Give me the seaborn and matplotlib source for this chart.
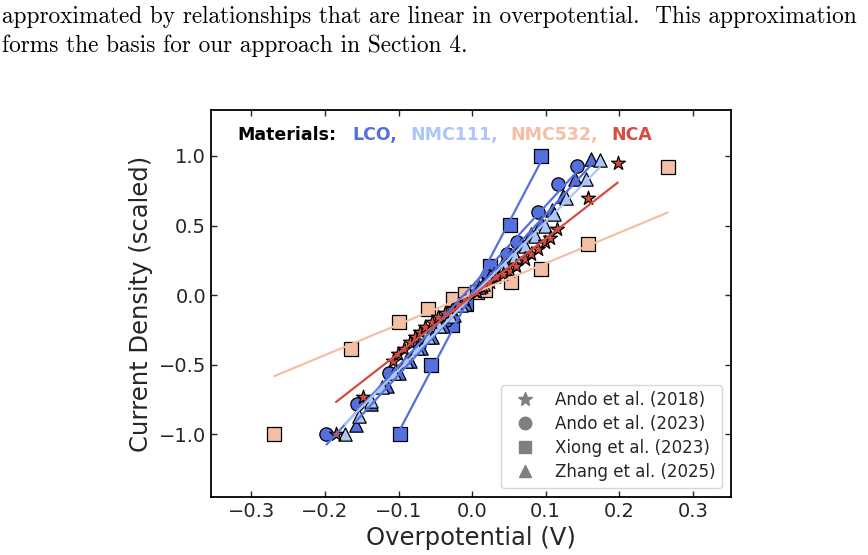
import numpy as np
import pandas as pd
import seaborn as sns
import matplotlib.pyplot as plt
from matplotlib.lines import Line2D

# scaled current density vs overpotential
ando18_eta = [-0.185, -0.148, -0.107, -0.1005, -0.093, -0.085, -0.078, -0.071, -0.064, -0.055,
              -0.046, -0.037, -0.028, -0.019, -0.010, 0.006, 0.015, 0.024, 0.033, 0.042,
              0.051, 0.060, 0.0716, 0.0807, 0.0897, 0.099, 0.1056, 0.115, 0.158, 0.198]
ando18_j = [-1.0, -0.733, -0.47, -0.42, -0.386, -0.338, -0.302, -0.267, -0.231, -0.195,
            -0.159, -0.128, -0.099, -0.063, -0.032, 0.02, 0.056, 0.092, 0.128, 0.152,
            0.176, 0.211, 0.259, 0.295, 0.331, 0.379, 0.414, 0.474, 0.70, 0.948]

ando23_eta = [-0.198, -0.156, -0.113, -0.072, -0.035, 0.022, 0.047, 0.061, 0.090, 0.117, 0.143]
ando23_j = [-1.0, -0.78, -0.558, -0.36, -0.18, 0.14, 0.295, 0.379, 0.60, 0.80, 0.93]

xiong_lco_eta = [-0.098, -0.0565, -0.027, -0.008, 0.024, 0.052, 0.094]
xiong_lco_j = [-1.0, -0.50, -0.214, -0.06, 0.21, 0.505, 1.0]

xiong_nmc532_eta = [-0.269, -0.164, -0.099, -0.060, -0.026, -0.010, 0.006, 0.018, 0.0535, 0.094, 0.157, 0.266]
xiong_nmc532_j = [-1.0, -0.386, -0.19, -0.099, -0.027, 0.009, 0.02, 0.04, 0.097, 0.188, 0.371, 0.921]

zhang_lco_eta = [-0.158, -0.137, -0.116, -0.100, -0.085, -0.070, -0.055, -0.040, -0.025, -0.010, 0.010,
                 0.025, 0.040, 0.053, 0.066, 0.080, 0.094, 0.108, 0.123, 0.1395, 0.161]
zhang_lco_j = [-0.935, -0.78, -0.656, -0.56, -0.47, -0.38, -0.30, -0.22, -0.14, -0.06, 0.06,
               0.14, 0.22, 0.29, 0.36, 0.44, 0.52, 0.61, 0.71, 0.833, 0.98]

zhang_nmc111_eta = [-0.173, -0.154, -0.138, -0.122, -0.106, -0.090, -0.075, -0.060, -0.045, -0.030, -0.015,
                    0.015, 0.030, 0.045, 0.058, 0.072, 0.085, 0.099, 0.112, 0.128, 0.1545, 0.1735]
zhang_nmc111_j = [-1.0, -0.87, -0.76, -0.66, -0.56, -0.47, -0.38, -0.30, -0.22, -0.15, -0.07,
                  0.08, 0.15, 0.22, 0.283, 0.355, 0.426, 0.498, 0.58, 0.70, 0.833, 0.97]

materials = ['LCO', 'NMC111', 'NMC532', 'NCA']
mat_colors = {'LCO': '#5470de', 'NMC111': '#abc6f7', 'NMC532': '#f5bfa4', 'NCA': '#d44d40'}
sources = ['Ando et al. (2018)', 'Ando et al. (2023)', 'Xiong et al. (2023)', 'Zhang et al. (2025)']
src_markers = {'Ando et al. (2018)': '*', 'Ando et al. (2023)': 'o',
               'Xiong et al. (2023)': 's', 'Zhang et al. (2025)': '^'}

# drawing order: squares, circles, triangles, stars
groups = [
    ('Xiong et al. (2023)', 'NMC532', xiong_nmc532_eta, xiong_nmc532_j),
    ('Xiong et al. (2023)', 'LCO', xiong_lco_eta, xiong_lco_j),
    ('Ando et al. (2023)', 'LCO', ando23_eta, ando23_j),
    ('Zhang et al. (2025)', 'LCO', zhang_lco_eta, zhang_lco_j),
    ('Zhang et al. (2025)', 'NMC111', zhang_nmc111_eta, zhang_nmc111_j),
    ('Ando et al. (2018)', 'NCA', ando18_eta, ando18_j),
]

frames = []
for src, mat, eta, j in groups:
    frames.append(pd.DataFrame({'eta': eta, 'j': j, 'source': src, 'material': mat}))
df = pd.concat(frames, ignore_index=True)

sns.set_theme(style='ticks')
plt.rcParams['font.family'] = ['DejaVu Sans']

fig = plt.figure(figsize=(8.68, 5.55), dpi=100)
ax = fig.add_axes([211 / 868, 58 / 555, 520 / 868, 387 / 555])

for src, mat, eta, j in groups:
    sub = df[(df['source'] == src) & (df['material'] == mat)]
    size = 110 if src_markers[src] == '*' else 92
    sns.scatterplot(data=sub, x='eta', y='j', marker=src_markers[src], s=size,
                    color=mat_colors[mat], edgecolor='black', linewidth=0.9,
                    legend=False, ax=ax, zorder=1)

# linear fits over the low-overpotential region, drawn across each data range
for src, mat, eta, j in groups:
    eta = np.array(eta)
    j = np.array(j)
    m = np.abs(eta) <= 0.17
    slope, icpt = np.polyfit(eta[m], j[m], 1)
    xs = np.array([eta.min(), eta.max()])
    ax.plot(xs, slope * xs + icpt, color=mat_colors[mat], lw=1.6, zorder=2)

ax.set_xlim(-0.355, 0.352)
ax.set_ylim(-1.45, 1.33)
ax.set_xticks([-0.3, -0.2, -0.1, 0.0, 0.1, 0.2, 0.3])
ax.set_yticks([-1.0, -0.5, 0.0, 0.5, 1.0])
ax.tick_params(direction='in', top=True, right=True, length=4.5, width=1, labelsize=14)
for sp in ax.spines.values():
    sp.set_linewidth(1.3)
    sp.set_color('black')
ax.set_xlabel('Overpotential (V)', fontsize=17.5)
ax.set_ylabel('Current Density (scaled)', fontsize=17.5)

# materials colour key
t = ax.text(0.05, 0.935, 'Materials:', transform=ax.transAxes, fontsize=12.5,
            fontweight='bold', color='black', va='center')
gap = 11.5
for i, mat in enumerate(materials):
    label = mat + (',' if i < len(materials) - 1 else '')
    t = ax.annotate(label, xy=(1, 0), xycoords=t, xytext=(gap, 0), textcoords='offset points',
                    fontsize=12.5, fontweight='bold', color=mat_colors[mat], va='bottom')
    gap = 9.5

handles = [Line2D([], [], marker=src_markers[s], ls='', color='gray', markeredgecolor='gray',
                  markersize=10.5 if src_markers[s] == '*' else 9, label=s) for s in sources]
ax.legend(handles=handles, loc='lower right', fontsize=12, labelspacing=0.36,
          handletextpad=0.8, borderaxespad=0.55)

# paragraph text above the figure
fig.text(0.002, 1 - 23 / 555, 'approximated by relationships that are linear in overpotential.  This approximation',
         family='cmr10', fontsize=16.8, va='baseline', ha='left', color='black')
fig.text(0.002, 1 - 52 / 555, 'forms the basis for our approach in Section 4.',
         family='cmr10', fontsize=16.8, va='baseline', ha='left', color='black')

fig.savefig('out.png', dpi=100)
